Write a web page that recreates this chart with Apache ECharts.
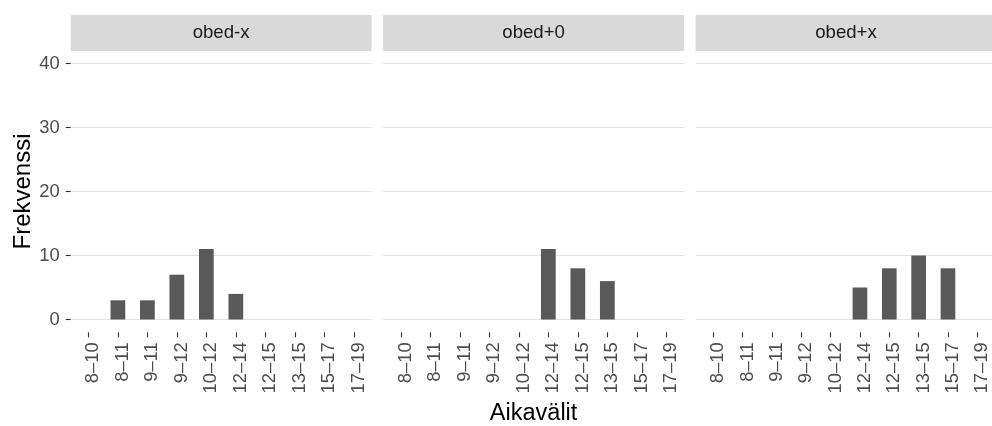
<!DOCTYPE html>
<html>
<head>
<meta charset="utf-8">
<script src="https://cdn.jsdelivr.net/npm/echarts@6/dist/echarts.min.js"></script>
<style>
html,body{margin:0;padding:0;background:#fff;}
#chart{width:992px;height:426px;}
</style>
</head>
<body>
<div id="chart"></div>
<script>
const categories = ['8–10','8–11','9–11','9–12','10–12','12–14','12–15','13–15','15–17','17–19'];
const panelNames = ['obed-x','obed+0','obed+x'];
const obedMinusX = [0,3,3,7,11,4,0,0,0,0];
const obedZero   = [0,0,0,0,0,11,8,6,0,0];
const obedPlusX  = [0,0,0,0,0,5,8,10,8,0];
const panelValues = [obedMinusX, obedZero, obedPlusX];
const yMin = 0, yMax = 40, yStep = 10;
const yTitle = 'Frekvenssi';
const xTitle = 'Aikavälit';

const FONT = 'Liberation Sans, Arial, sans-serif';
const panelLeft = [70.7, 383.2, 695.6];
const panelW = 300.8;
const top40 = 63.5, zeroY = 319.5;
const pxPerUnit = (zeroY - top40) / (yMax - yMin);
const expandUnits = 0.05 * (yMax - yMin);
const panelTop = top40 - expandUnits * pxPerUnit;
const panelBottom = zeroY + expandUnits * pxPerUnit;
const band = panelW / (categories.length + 0.2);
const inset = 0.1 * band;

const grids = [], xAxes = [], yAxes = [], series = [], graphics = [];
// background grids (full panel width) for gridlines + y axis
panelLeft.forEach((L, i) => {
  grids.push({left: L, top: top40, width: panelW, height: zeroY - top40});
  xAxes.push({type: 'value', gridIndex: i, min: 0, max: 1, show: false});
  yAxes.push({
    type: 'value', gridIndex: i, min: yMin, max: yMax, interval: yStep,
    axisLine: {show: false},
    axisTick: {show: i === 0, length: 5, lineStyle: {color: '#333333', width: 1.1}},
    axisLabel: {show: i === 0, margin: 11, color: '#4D4D4D', fontSize: 18.4, fontFamily: FONT},
    splitLine: {show: true, lineStyle: {color: '#E3E3E3', width: 1.2}},
    name: i === 0 ? yTitle : '',
    nameLocation: 'middle', nameRotate: 90, nameGap: 34,
    nameTextStyle: {color: '#000', fontSize: 24, fontFamily: FONT}
  });
});
// bar grids (with ggplot-style 5% expansion on y, hidden y axis)
panelLeft.forEach((L, i) => {
  const gi = i + 3;
  grids.push({left: L + inset, top: panelTop, width: panelW - 2 * inset, height: panelBottom - panelTop});
  xAxes.push({
    type: 'category', gridIndex: gi, data: categories, position: 'bottom',
    axisLine: {show: false, onZero: false},
    axisTick: {show: true, alignWithLabel: true, length: 5, lineStyle: {color: '#333333', width: 1.1}},
    axisLabel: {rotate: 90, margin: 10, color: '#4D4D4D', fontSize: 18.4, fontFamily: FONT,
                interval: 0, verticalAlign: 'top', lineHeight: 10}
  });
  yAxes.push({type: 'value', gridIndex: gi, min: yMin - expandUnits, max: yMax + expandUnits, show: false, splitLine: {show: false}});
  series.push({
    type: 'bar', xAxisIndex: gi, yAxisIndex: gi, data: panelValues[i],
    barWidth: '50%', itemStyle: {color: '#595959'}, silent: true
  });
  graphics.push({type: 'rect', shape: {x: L, y: 15, width: panelW, height: 36}, style: {fill: '#D9D9D9'}});
  graphics.push({type: 'text', x: L + panelW / 2, y: 33,
    style: {text: panelNames[i], fill: '#1A1A1A', font: '18.6px ' + FONT, textAlign: 'center', textVerticalAlign: 'middle'}});
});
graphics.push({type: 'text', x: panelLeft[1] + panelW / 2, y: 414,
  style: {text: xTitle, fill: '#000', font: '23.5px ' + FONT, textAlign: 'center', textVerticalAlign: 'middle'}});

const chart = echarts.init(document.getElementById('chart'), null, {renderer: 'canvas'});
chart.setOption({
  animation: false,
  backgroundColor: '#fff',
  grid: grids, xAxis: xAxes, yAxis: yAxes, series: series, graphic: graphics
});
</script>
</body>
</html>
